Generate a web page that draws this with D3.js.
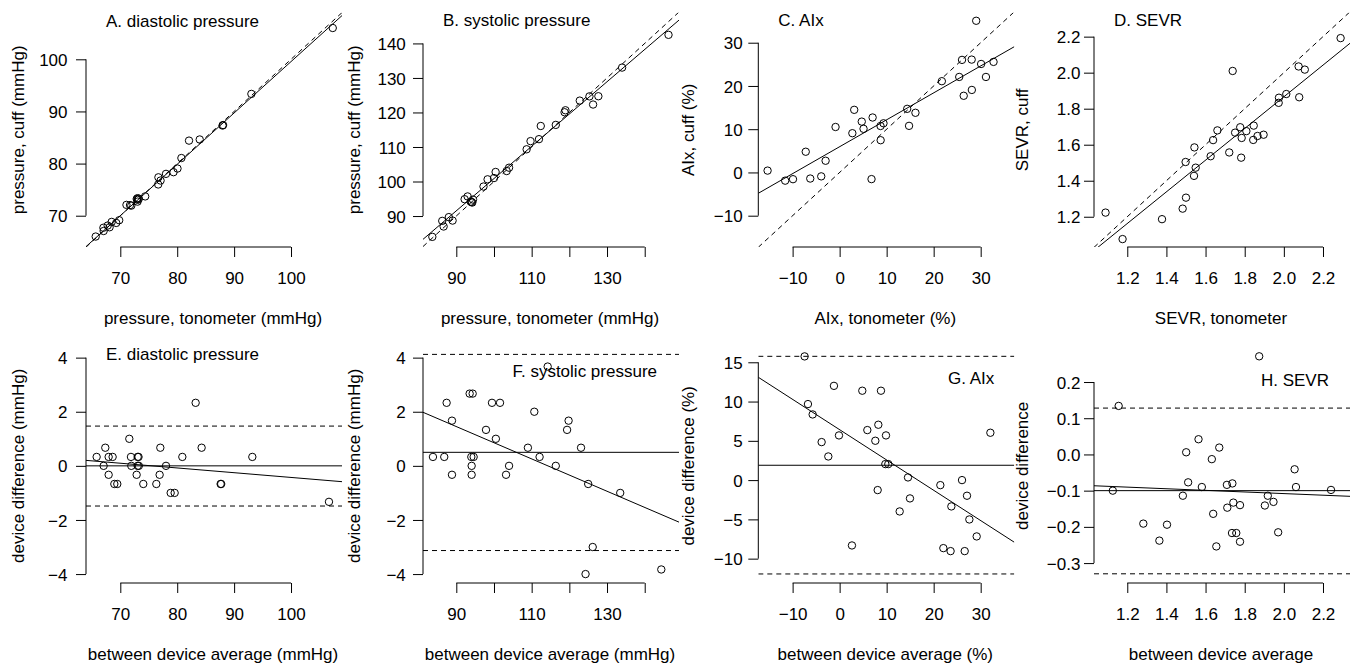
<!DOCTYPE html>
<html>
<head>
<meta charset="utf-8">
<script src="https://cdn.jsdelivr.net/npm/d3@7"></script>
<style>
  body { margin: 0; background: #fff; }
  text { font-family: "Liberation Sans", Arial, Helvetica, sans-serif; font-size: 17px; fill: #000; }
</style>
</head>
<body>
<svg id="fig" width="1354" height="666"></svg>
<script>
// ---- data: between device average, cuff minus tonometer ----
var diaMean = [65.84, 67.36, 67.07, 67.95, 67.95, 68.65, 68.95, 69.47, 71.58, 71.87, 71.93, 72.87, 73.05, 73.2, 73.05,
               73.25, 74.04, 76.33, 77.03, 76.91, 78.03, 78.85, 79.55, 80.9, 83.24, 84.29, 87.63, 87.73, 93.2, 106.67];
var diaDiff = [0.33, 0.67, 0, -0.33, 0.33, 0.33, -0.67, -0.67, 1.0, 0.33, 0, -0.33, 0.33, 0.33, 0,
               0, -0.67, -0.67, 0.67, -0.33, 0, -1.0, -1.0, 0.33, 2.33, 0.67, -0.67, -0.67, 0.33, -1.33];

var sysMean = [83.8, 86.8, 87.43, 88.85, 88.85, 93.54, 94.34, 93.98, 94.6, 94.07, 94.07, 97.88, 99.47, 101.6, 100.5,
               103.2, 104.0, 109.0, 110.7, 112.1, 114.25, 116.4, 119.4, 119.8, 123.1, 124.3, 125.0, 126.2, 133.5, 144.4];
var sysDiff = [0.33, 0.33, 2.33, 1.67, -0.33, 2.67, 2.67, 0.33, 0.33, 0, -0.33, 1.33, 2.33, 2.33, 1.0,
               -0.33, 0, 0.67, 2.0, 0.33, 3.67, 0, 1.33, 1.67, 0.67, -4.0, -0.67, -3.0, -1.0, -3.83];

var aixMean = [-7.45, -6.74, -5.74, -3.83, -2.41, -1.21, -0.14, 2.62, 4.82, 5.89, 7.59, 8.23, 8.09, 8.79, 9.86,
               9.72, 10.35, 12.77, 14.54, 14.96, 21.42, 22.06, 23.6, 23.76, 26.03, 26.6, 27.09, 27.59, 29.15, 32.06];
var aixDiff = [15.75, 9.68, 8.36, 4.84, 3.01, 12.0, 5.69, -8.32, 11.38, 6.37, 5.01, 7.05, -1.27, 11.38, 5.69,
               2.04, 2.04, -3.99, 0.34, -2.33, -0.64, -8.66, -9.04, -3.35, 0, -9.04, -1.99, -5.01, -7.17, 6.03];

var sevrMean = [1.126, 1.156, 1.282, 1.364, 1.403, 1.484, 1.501, 1.511, 1.564, 1.581, 1.632, 1.639, 1.655, 1.670, 1.709,
                1.711, 1.737, 1.735, 1.742, 1.757, 1.776, 1.776, 1.874, 1.903, 1.918, 1.947, 1.971, 2.055, 2.062, 2.241];
var sevrDiff = [-0.100, 0.134, -0.191, -0.238, -0.194, -0.114, 0.006, -0.077, 0.042, -0.090, -0.013, -0.164, -0.254, 0.019, -0.084,
                -0.147, -0.080, -0.217, -0.133, -0.217, -0.140, -0.241, 0.271, -0.141, -0.114, -0.131, -0.215, -0.041, -0.090, -0.098];

// fitted lines [intercept, slope]
var fitDia = [1.06, 0.985],   fitDiaBA = [1.322, -0.0175];
var fitSys = [7.39, 0.9347],  fitSysBA = [6.83, -0.05976];
var fitAix = [5.95, 0.6226],  fitAixBA = [6.42, -0.3857];
var fitSevr = [0.107, 0.8795], fitSevrBA = [-0.0635, -0.0223];

// [lower limit of agreement, mean difference, upper limit]
var limDia = [-1.485, 0, 1.47];
var limSys = [-3.13, 0.5, 4.12];
var limAix = [-11.95, 1.89, 15.76];
var limSevr = [-0.3296, -0.1, 0.128];

// tick values
var ticksDia = [70, 80, 90, 100];
var ticksSys = [90, 100, 110, 120, 130, 140];
var ticksAix = [-10, 0, 10, 20, 30];
var ticksSevr = [1.2, 1.4, 1.6, 1.8, 2.0, 2.2];
var ticksDiffP = [-4, -2, 0, 2, 4];
var ticksDiffAix = [-10, -5, 0, 5, 10, 15];
var ticksDiffSevr = [-0.3, -0.2, -0.1, 0.0, 0.1, 0.2];

// tonometer / cuff values back from average and difference
function tono(m, d) { return m.map(function (v, i) { return v - d[i] / 2; }); }
function cuff(m, d) { return m.map(function (v, i) { return v + d[i] / 2; }); }

// ---- layout ----
var colLeft = [86, 423, 758.3, 1094];
var rowBox = [[12.7, 247], [348.7, 583]];
var plotW = 256;
var yTickGap = [18.5, 17.2, 15.6, 13.6];
var yLabX = [24.4, 359.5, 693.5, 1028];

var fmt0 = d3.format("d"), fmt1 = d3.format(".1f");
var fmtSys = function (v) { return (v === 90 || v === 110 || v === 130) ? fmt0(v) : ""; };

function ab(c, dash) { return { a: c[0], b: c[1], dash: dash }; }
function hl(v, dash) { return { a: v, b: 0, dash: dash }; }

var panels = [
  { col: 0, row: 0, xs: tono(diaMean, diaDiff), ys: cuff(diaMean, diaDiff),
    xDom: [63.97, 108.96], yDom: [64.0, 108.94], xTicks: ticksDia, yTicks: ticksDia, xFmt: fmt0, yFmt: fmt0,
    xLab: "pressure, tonometer (mmHg)", yLab: "pressure, cuff (mmHg)",
    title: "A. diastolic pressure", tAnchor: "start", tX: 20, tY: 26.5,
    lines: [ab([0, 1], true), ab(fitDia, false)] },
  { col: 1, row: 0, xs: tono(sysMean, sysDiff), ys: cuff(sysMean, sysDiff),
    xDom: [81.16, 149.1], yDom: [81.03, 148.9], xTicks: ticksSys, yTicks: ticksSys, xFmt: fmtSys, yFmt: fmt0,
    xLab: "pressure, tonometer (mmHg)", yLab: "pressure, cuff (mmHg)",
    title: "B. systolic pressure", tAnchor: "start", tX: 20, tY: 26,
    lines: [ab([0, 1], true), ab(fitSys, false)] },
  { col: 2, row: 0, xs: tono(aixMean, aixDiff), ys: cuff(aixMean, aixDiff),
    xDom: [-17.3, 37.15], yDom: [-17.24, 36.94], xTicks: ticksAix, yTicks: ticksAix, xFmt: fmt0, yFmt: fmt0,
    xLab: "AIx, tonometer (%)", yLab: "AIx, cuff (%)",
    title: "C. AIx", tAnchor: "start", tX: 20, tY: 26,
    lines: [ab([0, 1], true), ab(fitAix, false)] },
  { col: 3, row: 0, xs: tono(sevrMean, sevrDiff), ys: cuff(sevrMean, sevrDiff),
    xDom: [1.030, 2.338], yDom: [1.032, 2.333], xTicks: ticksSevr, yTicks: ticksSevr, xFmt: fmt1, yFmt: fmt1,
    xLab: "SEVR, tonometer", yLab: "SEVR, cuff",
    title: "D. SEVR", tAnchor: "start", tX: 20, tY: 26,
    lines: [ab([0, 1], true), ab(fitSevr, false)] },
  { col: 0, row: 1, xs: diaMean, ys: diaDiff,
    xDom: [63.97, 108.96], yDom: [-4.33, 4.33], xTicks: ticksDia, yTicks: ticksDiffP, xFmt: fmt0, yFmt: fmt0,
    xLab: "between device average (mmHg)", yLab: "device difference (mmHg)",
    title: "E. diastolic pressure", tAnchor: "start", tX: 20, tY: 360.3,
    lines: [hl(limDia[0], true), hl(limDia[2], true), hl(limDia[1], false), ab(fitDiaBA, false)] },
  { col: 1, row: 1, xs: sysMean, ys: sysDiff,
    xDom: [81.16, 149.1], yDom: [-4.33, 4.33], xTicks: ticksSys, yTicks: ticksDiffP, xFmt: fmtSys, yFmt: fmt0,
    xLab: "between device average (mmHg)", yLab: "device difference (mmHg)",
    title: "F. systolic pressure", tAnchor: "end", tX: -22, tY: 377.3,
    lines: [hl(limSys[0], true), hl(limSys[2], true), hl(limSys[1], false), ab(fitSysBA, false)] },
  { col: 2, row: 1, xs: aixMean, ys: aixDiff,
    xDom: [-17.3, 37.15], yDom: [-13.1, 16.73], xTicks: ticksAix, yTicks: ticksDiffAix, xFmt: fmt0, yFmt: fmt0,
    xLab: "between device average (%)", yLab: "device difference (%)",
    title: "G. AIx", tAnchor: "end", tX: -20, tY: 383.7,
    lines: [hl(limAix[0], true), hl(limAix[2], true), hl(limAix[1], false), ab(fitAixBA, false)] },
  { col: 3, row: 1, xs: sevrMean, ys: sevrDiff,
    xDom: [1.030, 2.338], yDom: [-0.355, 0.292], xTicks: ticksSevr, yTicks: ticksDiffSevr, xFmt: fmt1, yFmt: fmt1,
    xLab: "between device average", yLab: "device difference",
    title: "H. SEVR", tAnchor: "end", tX: -21, tY: 385.7,
    lines: [hl(limSevr[0], true), hl(limSevr[2], true), hl(limSevr[1], false), ab(fitSevrBA, false)] }
];

var svg = d3.select("#fig");
var defs = svg.append("defs");

panels.forEach(function (p, i) {
  var top = rowBox[p.row][0], bottom = rowBox[p.row][1];
  var left = colLeft[p.col], right = left + plotW;
  var x = d3.scaleLinear().domain(p.xDom).range([left, right]);
  var y = d3.scaleLinear().domain(p.yDom).range([bottom, top]);
  var g = svg.append("g");

  defs.append("clipPath").attr("id", "clip" + i)
    .append("rect").attr("x", left).attr("y", top).attr("width", plotW).attr("height", bottom - top);
  var body = g.append("g").attr("clip-path", "url(#clip" + i + ")");

  // reference / fitted lines
  body.selectAll("line.ab").data(p.lines).join("line")
    .attr("class", "ab")
    .attr("x1", x(p.xDom[0])).attr("x2", x(p.xDom[1]))
    .attr("y1", function (l) { return y(l.a + l.b * p.xDom[0]); })
    .attr("y2", function (l) { return y(l.a + l.b * p.xDom[1]); })
    .attr("stroke", "#000").attr("stroke-width", 1)
    .attr("stroke-dasharray", function (l) { return l.dash ? "5,4" : null; });

  // points
  body.selectAll("circle").data(d3.zip(p.xs, p.ys)).join("circle")
    .attr("cx", function (d) { return x(d[0]); })
    .attr("cy", function (d) { return y(d[1]); })
    .attr("r", 3.7)
    .attr("fill", "none").attr("stroke", "#000").attr("stroke-width", 1);

  // x axis
  var gx = g.append("g").attr("transform", "translate(0," + bottom + ")")
    .call(d3.axisBottom(x).tickValues(p.xTicks).tickSize(10).tickFormat(p.xFmt));
  gx.select(".domain").remove();
  gx.append("line").attr("x1", x(p.xTicks[0])).attr("x2", x(p.xTicks[p.xTicks.length - 1]))
    .attr("stroke", "#000");
  gx.attr("font-size", null).attr("font-family", null);
  gx.selectAll(".tick text").attr("y", 37).attr("dy", null);

  // y axis
  var gy = g.append("g").attr("transform", "translate(" + left + ",0)")
    .call(d3.axisLeft(y).tickValues(p.yTicks).tickSize(10).tickFormat(p.yFmt));
  gy.select(".domain").remove();
  gy.append("line").attr("y1", y(p.yTicks[0])).attr("y2", y(p.yTicks[p.yTicks.length - 1]))
    .attr("stroke", "#000");
  gy.attr("font-size", null).attr("font-family", null);
  gy.selectAll(".tick text").attr("x", -yTickGap[p.col]).attr("dy", "0.36em");

  // axis titles
  g.append("text").attr("x", (left + right) / 2 - 1).attr("y", bottom + 77.3)
    .attr("text-anchor", "middle").text(p.xLab);
  g.append("text")
    .attr("transform", "translate(" + yLabX[p.col] + "," + ((top + bottom) / 2) + ") rotate(-90)")
    .attr("text-anchor", "middle").text(p.yLab);

  // panel title
  g.append("text")
    .attr("x", p.tAnchor === "start" ? left + p.tX : right + p.tX)
    .attr("y", p.tY)
    .attr("text-anchor", p.tAnchor).text(p.title);
});
</script>
</body>
</html>
